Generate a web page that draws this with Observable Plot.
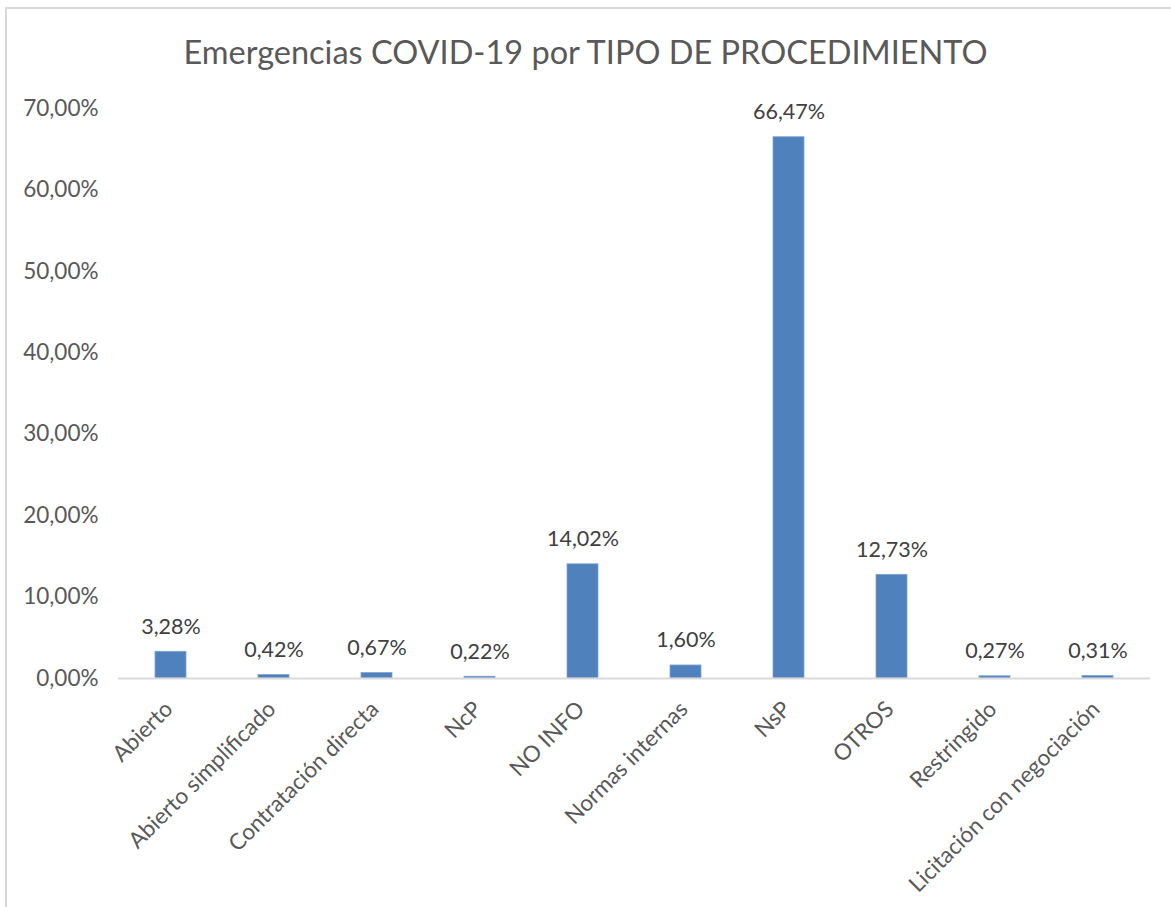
<!DOCTYPE html>
<html>
<head>
<meta charset="utf-8">
<script src="https://cdn.jsdelivr.net/npm/d3@7"></script>
<script src="https://cdn.jsdelivr.net/npm/@observablehq/plot@0.6"></script>
<style>
  html, body { margin: 0; padding: 0; background: #fff; }
  #wrap { position: relative; width: 1171px; height: 907px; overflow: hidden; font-family: Lato, "Open Sans", sans-serif; }
  #frame { position: absolute; left: 5px; top: 7px; width: 1180px; height: 920px; border-left: 2px solid #d9d9d9; border-top: 2px solid #d9d9d9; }
  #title { position: absolute; left: 0; top: 31px; width: 1171px; text-align: center; font-size: 32.5px; color: #595959; line-height: 42px; }
  #chart { position: absolute; left: 0; top: 80px; }
</style>
</head>
<body>
<div id="wrap">
  <div id="frame"></div>
  <div id="title">Emergencias COVID-19 por TIPO DE PROCEDIMIENTO</div>
  <div id="chart"></div>
</div>
<script>
const categories = ["Abierto", "Abierto simplificado", "Contratación directa", "NcP", "NO INFO", "Normas internas", "NsP", "OTROS", "Restringido", "Licitación con negociación"];
const values = [3.28, 0.42, 0.67, 0.22, 14.02, 1.60, 66.47, 12.73, 0.27, 0.31];
const yTicks = [0, 10, 20, 30, 40, 50, 60, 70];

const data = categories.map((c, i) => ({category: c, value: values[i]}));
const fmt = v => v.toFixed(2).replace(".", ",") + "%";

const chart = Plot.plot({
  width: 1171,
  height: 827,
  marginTop: 28,
  marginBottom: 229,
  marginLeft: 118,
  marginRight: 21,
  style: {fontFamily: "Lato, 'Open Sans', sans-serif", color: "#595959", background: "transparent"},
  x: {domain: categories, paddingInner: 0.7, paddingOuter: 0.35},
  y: {domain: [0, 70]},
  marks: [
    Plot.axisY({ticks: yTicks, tickFormat: fmt, tickSize: 0, tickPadding: 20, fontSize: 22.5, label: null, color: "#595959"}),
    Plot.axisX({tickRotate: -45, tickSize: 0, tickPadding: 27, dx: -2, fontSize: 22.5, label: null, color: "#595959"}),
    Plot.barY(data, {x: "category", y: "value", fill: "#4f81bd", stroke: "#7fa3d4", strokeWidth: 0.8}),
    Plot.ruleY([0], {stroke: "#d9d9d9", strokeWidth: 2}),
    Plot.text(data, {x: "category", y: "value", text: d => fmt(d.value), lineAnchor: "bottom", dy: -18, fontSize: 21.5, fill: "#404040"})
  ]
});
document.getElementById("chart").appendChild(chart);
</script>
</body>
</html>
